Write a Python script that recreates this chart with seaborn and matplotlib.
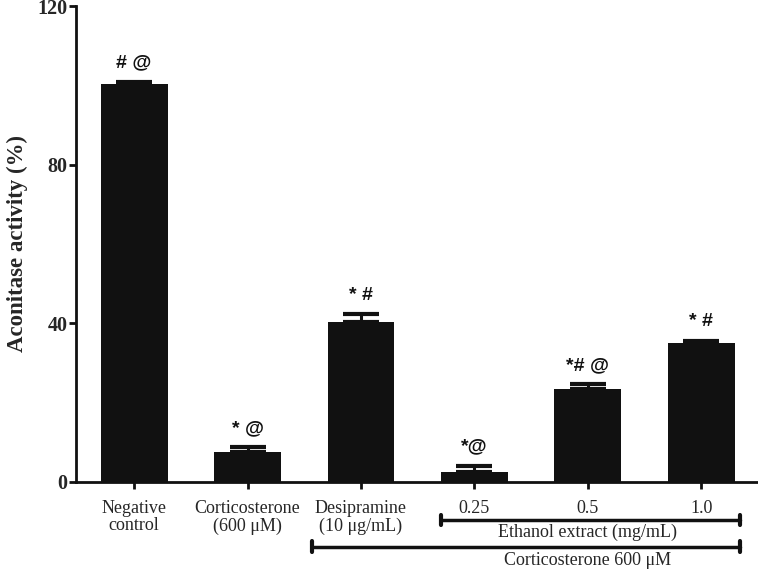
import numpy as np
import pandas as pd
import matplotlib
matplotlib.use('Agg')
import matplotlib.pyplot as plt
import matplotlib.transforms as mtransforms
import seaborn as sns

# datos
grupos = ['Negative\ncontrol', 'Corticosterone\n(600 \u03bcM)', 'Desipramine\n(10 \u03bcg/mL)', '0.25', '0.5', '1.0']
actividad = [100.2, 7.6, 40.3, 2.4, 23.5, 35.0]
error = [0.7, 1.1, 1.9, 1.6, 1.1, 0.6]
marcas = ['# @', '* @', '* #', '*@', '*# @', '* #']
yticks = [0, 40, 80, 120]

df = pd.DataFrame({'grupo': grupos, 'actividad': actividad, 'error': error})

sns.set_style('ticks')
plt.rcParams['font.family'] = ['Liberation Serif', 'DejaVu Serif']

fig = plt.figure(figsize=(7.58, 5.72), dpi=100)
ax = fig.add_axes([0.0999, 0.1579, 0.8988, 0.8316])

sns.barplot(data=df, x='grupo', y='actividad', color='#111111', width=0.59,
            errorbar=None, saturation=1, linewidth=0, ax=ax)
x = np.arange(len(grupos))
ax.errorbar(x, df['actividad'], yerr=[np.zeros(len(x)), df['error']], fmt='none',
            ecolor='#111111', elinewidth=2.2, capsize=13, capthick=3)

# marcas de significancia encima de cada barra
for i, m in enumerate(marcas):
    ax.annotate(m, (x[i], actividad[i] + error[i]), xytext=(0, 13.5), textcoords='offset points',
                ha='center', va='center', fontsize=14, fontweight='bold',
                family=['Liberation Sans', 'DejaVu Sans'], color='#111111')

ax.set_xlim(-0.514, 5.49)
ax.set_ylim(0, 120)
ax.set_yticks(yticks)
ax.set_yticklabels([str(t) for t in yticks], fontsize=14.5, fontweight='bold')
ax.set_xticks(x)
ax.set_xticklabels(grupos, fontsize=13, linespacing=1.05)
ax.set_xlabel('')
ax.set_ylabel('Aconitase activity (%)', fontsize=16.5, fontweight='bold', labelpad=7)
for s in ['top', 'right']:
    ax.spines[s].set_visible(False)
for s in ['left', 'bottom']:
    ax.spines[s].set_linewidth(2)
    ax.spines[s].set_color('#111111')
ax.tick_params(axis='both', length=5, width=2, color='#111111')
ax.tick_params(axis='x', pad=8)
ax.tick_params(axis='y', pad=1)

# corchetes de los grupos de tratamiento
trans = mtransforms.blended_transform_factory(ax.transData, ax.transAxes)
corchetes = [(2.705, 5.344, -0.0805, -0.107, 'Ethanol extract (mg/mL)'),
             (1.57, 5.344, -0.1366, -0.1667, 'Corticosterone 600 \u03bcM')]
for x0, x1, yl, yt, texto in corchetes:
    ax.plot([x0, x1], [yl, yl], color='#111111', lw=2.5, transform=trans, clip_on=False)
    for xe in (x0, x1):
        ax.plot([xe, xe], [yl - 0.011, yl + 0.011], color='#111111', lw=3,
                transform=trans, clip_on=False)
    ax.text(4.0, yt, texto, transform=trans, ha='center', va='center', fontsize=13)

fig.savefig('out.png', dpi=100)
